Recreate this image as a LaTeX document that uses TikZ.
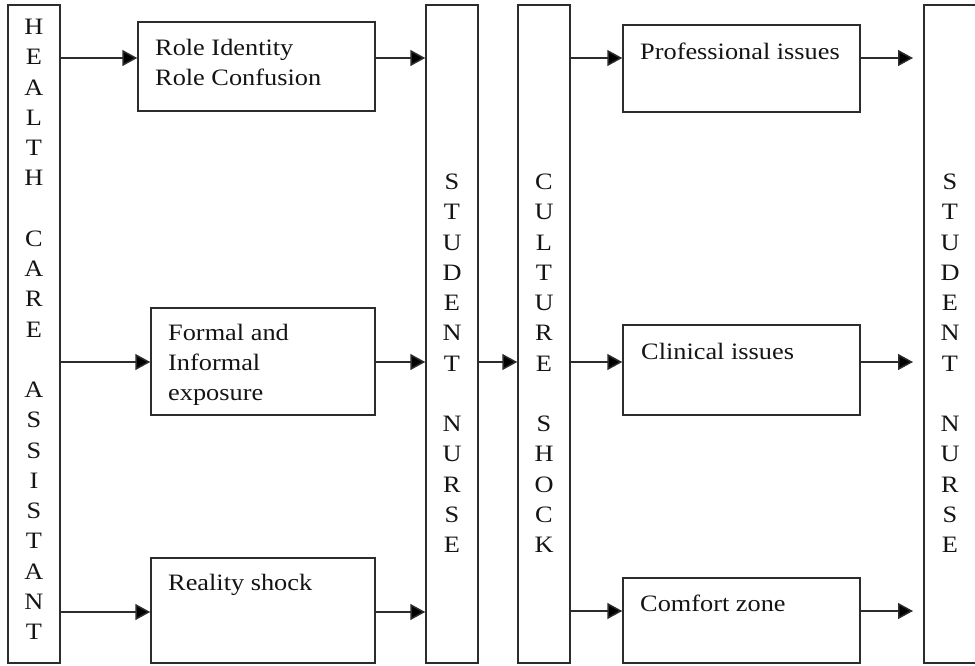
\documentclass[tikz,border=0pt]{standalone}
\usepackage{fontspec}
\setmainfont{Liberation Serif}[FakeStretch=1.12]
\usetikzlibrary{arrows.meta}
\definecolor{ink}{HTML}{141414}
\definecolor{edge}{HTML}{2C2C2C}
\begin{document}
\begin{tikzpicture}[x=1pt,y=-1pt,
  box/.style={draw=edge,line width=1.5pt,rectangle,inner sep=0pt},
  colbox/.style={box,minimum width=52pt,minimum height=658pt},
  txt/.style={text=ink,inner sep=0pt,font=\fontsize{23.5}{30.25}\selectfont},
  boxtxt/.style={txt,anchor=north west,align=left},
  coltxt/.style={txt,anchor=north,align=center},
  arr/.style={draw=edge,line width=1.5pt,-{Triangle[length=15pt,width=16pt,fill=black]}}]
\useasboundingbox (0,0) rectangle (975,666);

% vertical columns
\node[colbox] (hca) at (34,334) {};
\node[colbox] (sn1) at (452,334) {};
\node[colbox] (cs)  at (544,334) {};
\node[colbox] (sn2) at (950,334) {};

\node[coltxt] (hcat) at (34,17.5) {\rule{0pt}{17pt}H\\E\\A\\L\\T\\H\\~\\C\\A\\R\\E\\~\\A\\S\\S\\I\\S\\T\\A\\N\\T};
\node[coltxt] (sn1t) at (452,172.5) {\rule{0pt}{17pt}S\\T\\U\\D\\E\\N\\T\\~\\N\\U\\R\\S\\E};
\node[coltxt] (cst)  at (544,172.5) {\rule{0pt}{17pt}C\\U\\L\\T\\U\\R\\E\\~\\S\\H\\O\\C\\K};
\node[coltxt] (sn2t) at (950,172.5) {\rule{0pt}{17pt}S\\T\\U\\D\\E\\N\\T\\~\\N\\U\\R\\S\\E};

% left-hand boxes
\node[box,minimum width=237pt,minimum height=89pt]  (role)    at (256.5,66.5) {};
\node[box,minimum width=224pt,minimum height=107pt] (formal)  at (263,361.5) {};
\node[box,minimum width=224pt,minimum height=105pt] (reality) at (263,610.5) {};
\node[boxtxt] (rolet)    at (155,38)  {\rule{0pt}{17pt}Role Identity\\Role Confusion};
\node[boxtxt] (formalt)  at (168,323) {\rule{0pt}{17pt}Formal and\\Informal\\exposure};
\node[boxtxt] (realityt) at (168,573) {\rule{0pt}{17pt}Reality shock};

% right-hand boxes
\node[box,minimum width=237pt,minimum height=87pt] (prof) at (741.5,68.5) {};
\node[box,minimum width=237pt,minimum height=90pt] (clin) at (741.5,370) {};
\node[box,minimum width=237pt,minimum height=85pt] (comf) at (741.5,620.5) {};
\node[boxtxt] (proft) at (640,42)  {\rule{0pt}{17pt}Professional issues};
\node[boxtxt] (clint) at (641,342) {\rule{0pt}{17pt}Clinical issues};
\node[boxtxt] (comft) at (640,594) {\rule{0pt}{17pt}Comfort zone};

% free arrow ends in front of the last column
\coordinate (endA) at (913,58);
\coordinate (endB) at (913,362);
\coordinate (endC) at (913,611);

% connectors
\draw[arr] (hca.east |- 0,58)     -- (role.west |- 0,58);
\draw[arr] (role.east |- 0,58)    -- (sn1.west |- 0,58);
\draw[arr] (hca.east |- 0,362)    -- (formal.west |- 0,362);
\draw[arr] (formal.east |- 0,362) -- (sn1.west |- 0,362);
\draw[arr] (hca.east |- 0,612)    -- (reality.west |- 0,612);
\draw[arr] (reality.east |- 0,612) -- (sn1.west |- 0,612);
\draw[arr] (sn1.east |- 0,362)    -- (cs.west |- 0,362);
\draw[arr] (cs.east |- 0,58)      -- (prof.west |- 0,58);
\draw[arr] (cs.east |- 0,362)     -- (clin.west |- 0,362);
\draw[arr] (cs.east |- 0,611)     -- (comf.west |- 0,611);
\draw[arr] (prof.east |- endA)    -- (endA);
\draw[arr] (clin.east |- endB)    -- (endB);
\draw[arr] (comf.east |- endC)    -- (endC);
\end{tikzpicture}
\end{document}
